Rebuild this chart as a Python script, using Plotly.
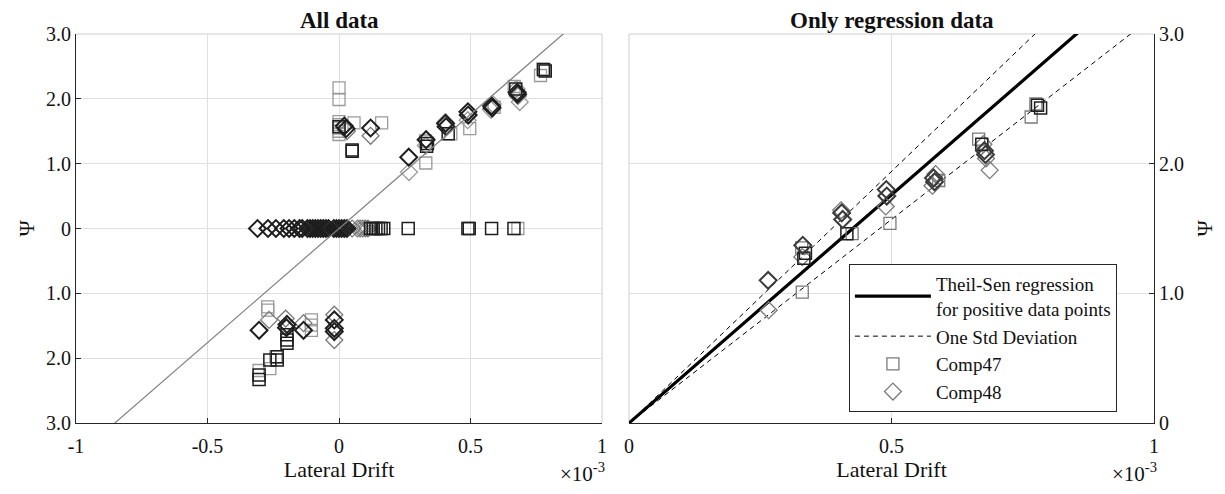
import plotly.graph_objects as go

# Lateral drift in units of 1e-3, Psi values
# ---- regression (positive) data ----
c47_reg_dark_x = [0.333, 0.336, 0.415, 0.672, 0.784, 0.778]
c47_reg_dark_y = [1.27, 1.31, 1.46, 2.15, 2.43, 2.45]
c47_reg_light_x = [0.330, 0.329, 0.425, 0.497, 0.590, 0.666, 0.766, 0.775]
c47_reg_light_y = [1.01, 1.35, 1.46, 1.54, 1.87, 2.19, 2.36, 2.46]
c48_reg_dark_x = [0.265, 0.331, 0.405, 0.407, 0.490, 0.491, 0.580, 0.582, 0.677, 0.679]
c48_reg_dark_y = [1.10, 1.37, 1.62, 1.57, 1.80, 1.75, 1.89, 1.86, 2.10, 2.07]
c48_reg_light_x = [0.266, 0.330, 0.404, 0.489, 0.578, 0.584, 0.680, 0.687, 0.675]
c48_reg_light_y = [0.87, 1.28, 1.64, 1.67, 1.83, 1.92, 2.04, 1.95, 2.15]

# ---- remaining data (only in "All data") ----
c47_other_dark_x = [0.12, 0.13, 0.14, 0.15, 0.16, 0.17, 0.263, 0.490, 0.495, 0.580, 0.665,
                    0.0, 0.05, 0.05,
                    -0.198, -0.198, -0.198, -0.235, -0.235, -0.304, -0.304, -0.263]
c47_other_dark_y = [0, 0, 0, 0, 0, 0, 0, 0, 0, 0, 0,
                    1.57, 1.19, 1.21,
                    -1.64, -1.72, -1.77, -2.03, -1.98, -2.33, -2.26, -2.03]
c47_other_light_x = [0.68, 0.0, 0.0, 0.0, 0.0, 0.0, 0.0, 0.0, 0.057, 0.162,
                     -0.271, -0.271, -0.105, -0.105, -0.105, -0.304, -0.263, -0.24]
c47_other_light_y = [0, 2.17, 1.99, 1.65, 1.60, 1.55, 1.50, 1.45, 1.63, 1.63,
                     -1.21, -1.26, -1.41, -1.49, -1.57, -2.19, -2.16, -1.98]
c48_other_dark_x = [-0.31, -0.27, -0.24, -0.21, -0.19, -0.17, -0.15, -0.14, -0.12, -0.11,
                    -0.10, -0.09, -0.08, -0.07, -0.06, -0.05, -0.04, -0.02, -0.01, 0.0,
                    0.01, 0.02, 0.03,
                    0.027, 0.02, 0.12,
                    -0.304, -0.20, -0.198, -0.135, -0.018, -0.018, -0.018]
c48_other_dark_y = [0, 0, 0, 0, 0, 0, 0, 0, 0, 0,
                    0, 0, 0, 0, 0, 0, 0, 0, 0, 0,
                    0, 0, 0,
                    1.54, 1.58, 1.55,
                    -1.57, -1.53, -1.48, -1.57, -1.41, -1.54, -1.59]
c48_other_light_x = [0.05, 0.07, 0.08, 0.09, 0.10, 0.11, 0.03, 0.12,
                     -0.266, -0.203, -0.135, -0.018, -0.018]
c48_other_light_y = [0, 0, 0, 0, 0, 0, 1.50, 1.43,
                     -1.41, -1.39, -1.46, -1.33, -1.72]

# ---- regression results (Psi per 1e-3 drift) ----
fit_slope = 3.52
std_slope_hi = 3.88
std_slope_lo = 3.14
line_x_all = [-1, 1]
line_x_reg = [0, 1]

# ---- tick labels ----
x_ticks_all = [-1, -0.5, 0, 0.5, 1]
x_labels_all = ["-1", "-0.5", "0", "0.5", "1"]
y_ticks_all = [-3, -2, -1, 0, 1, 2, 3]
y_labels_all = ["3.0", "2.0", "1.0", "0", "1.0", "2.0", "3.0"]
x_ticks_reg = [0, 0.5, 1]
x_labels_reg = ["0", "0.5", "1"]
y_ticks_reg = [0, 1, 2, 3]
y_labels_reg = ["0", "1.0", "2.0", "3.0"]

FONT = "Liberation Serif"
DARK = "#1e1e1e"
LIGHT = "#9a9a9a"
MID = "#7a7a7a"
AX = "#262626"
GRID = "#e0e0e0"

fig = go.Figure()


def add_markers(x, y, symbol, color, size, xa, ya, name=None, legend=False, width=1.3):
    fig.add_trace(go.Scatter(
        x=x, y=y, mode="markers", xaxis=xa, yaxis=ya,
        marker=dict(symbol=symbol, size=size, color=color, line=dict(width=width, color=color)),
        name=name, showlegend=legend, hoverinfo="skip"))


# Left panel: all data
add_markers(c47_other_light_x, c47_other_light_y, "square-open", LIGHT, 12, "x", "y")
add_markers(c47_reg_light_x, c47_reg_light_y, "square-open", LIGHT, 12, "x", "y")
add_markers(c48_other_light_x, c48_other_light_y, "diamond-open", MID, 13, "x", "y")
add_markers(c48_reg_light_x, c48_reg_light_y, "diamond-open", LIGHT, 13, "x", "y")
add_markers(c47_other_dark_x, c47_other_dark_y, "square-open", DARK, 12, "x", "y", width=1.5)
add_markers(c47_reg_dark_x, c47_reg_dark_y, "square-open", DARK, 12, "x", "y", width=1.5)
add_markers(c48_other_dark_x, c48_other_dark_y, "diamond-open", DARK, 13, "x", "y", width=2)
add_markers(c48_reg_dark_x, c48_reg_dark_y, "diamond-open", DARK, 13, "x", "y", width=2)

fig.add_trace(go.Scatter(
    x=line_x_all, y=[fit_slope * v for v in line_x_all], mode="lines",
    xaxis="x", yaxis="y", line=dict(color="#808080", width=1.2),
    showlegend=False, hoverinfo="skip"))

# Right panel: regression data
fig.add_trace(go.Scatter(
    x=line_x_reg, y=[fit_slope * v for v in line_x_reg], mode="lines",
    xaxis="x2", yaxis="y2", line=dict(color="black", width=3.2),
    name="Theil-Sen regression<br>for positive data points", showlegend=True, hoverinfo="skip"))
fig.add_trace(go.Scatter(
    x=line_x_reg, y=[std_slope_hi * v for v in line_x_reg], mode="lines",
    xaxis="x2", yaxis="y2", line=dict(color="black", width=1, dash="5px,4px"),
    name="One Std Deviation", showlegend=True, hoverinfo="skip"))
fig.add_trace(go.Scatter(
    x=line_x_reg, y=[std_slope_lo * v for v in line_x_reg], mode="lines",
    xaxis="x2", yaxis="y2", line=dict(color="black", width=1, dash="5px,4px"),
    showlegend=False, hoverinfo="skip"))

add_markers(c47_reg_light_x, c47_reg_light_y, "square-open", MID, 12, "x2", "y2",
            name="Comp47", legend=True)
add_markers(c48_reg_light_x, c48_reg_light_y, "diamond-open", MID, 13, "x2", "y2",
            name="Comp48", legend=True)
add_markers(c47_reg_dark_x, c47_reg_dark_y, "square-open", DARK, 12, "x2", "y2", width=1.5)
add_markers(c48_reg_dark_x, c48_reg_dark_y, "diamond-open", "#3a3a3a", 13, "x2", "y2", width=2)

axis_common = dict(
    showgrid=True, gridcolor=GRID, gridwidth=1, zeroline=False,
    showline=True, linecolor=AX, linewidth=1.2, mirror=False,
    ticks="inside", ticklen=5, tickcolor=AX, tickwidth=1,
    tickfont=dict(family=FONT, size=20, color="#111111"),
    automargin=False, fixedrange=True)

# The page body has an 8px default margin: the figure is sized so that
# the plot areas land where the reference has them in the 1225x494 window.
fig.update_layout(
    width=1209, height=478,
    margin=dict(l=68, r=63, t=26, b=63),
    paper_bgcolor="white", plot_bgcolor="white",
    font=dict(family=FONT, size=20, color="#111111"),
    xaxis=dict(domain=[0, 0.488], range=[-1, 1], tickvals=x_ticks_all, ticktext=x_labels_all,
               anchor="y", ticklabelstandoff=5,
               title=dict(text="Lateral Drift", font=dict(family=FONT, size=22), standoff=3),
               **axis_common),
    yaxis=dict(domain=[0, 1], range=[-3, 3], tickvals=y_ticks_all, ticktext=y_labels_all,
               anchor="x", ticklabelstandoff=0,
               title=dict(text="Ψ", font=dict(family=FONT, size=22), standoff=5),
               **axis_common),
    xaxis2=dict(domain=[0.513, 1], range=[0, 1], tickvals=x_ticks_reg, ticktext=x_labels_reg,
                anchor="y2", ticklabelstandoff=5,
                title=dict(text="Lateral Drift", font=dict(family=FONT, size=22), standoff=3),
                **axis_common),
    yaxis2=dict(domain=[0, 1], range=[0, 3], tickvals=y_ticks_reg, ticktext=y_labels_reg,
                anchor="x2", side="right", ticklabelstandoff=0,
                title=dict(text="Ψ", font=dict(family=FONT, size=22), standoff=25),
                **axis_common),
    legend=dict(x=0.717, y=0.409, xanchor="left", yanchor="top",
                bgcolor="white", bordercolor=AX, borderwidth=1,
                font=dict(family=FONT, size=19, color="#111111"),
                tracegroupgap=0, itemwidth=76, itemclick=False, itemdoubleclick=False),
    showlegend=True,
)

# Light box edges (top/right on left panel, top/left on right panel)
for xr, yr, edges in [("x domain", "y domain", [(0, 1, 1, 1), (1, 0, 1, 1)]),
                      ("x2 domain", "y2 domain", [(0, 1, 1, 1), (0, 0, 0, 1)])]:
    for x0, y0, x1, y1 in edges:
        fig.add_shape(type="line", xref=xr, yref=yr, x0=x0, y0=y0, x1=x1, y1=y1,
                      line=dict(color="#cfcfcf", width=1), layer="below")

# Panel titles
fig.add_annotation(text="<b>All data</b>", xref="x domain", yref="paper", x=0.5, y=1,
                   xanchor="center", yanchor="bottom", yshift=-1, showarrow=False,
                   font=dict(family=FONT, size=23, color="#111111"))
fig.add_annotation(text="<b>Only regression data</b>", xref="x2 domain", yref="paper", x=0.5, y=1,
                   xanchor="center", yanchor="bottom", yshift=-1, showarrow=False,
                   font=dict(family=FONT, size=23, color="#111111"))

# x10^-3 multipliers
for xr in ["x domain", "x2 domain"]:
    fig.add_annotation(text="×10<sup>-3</sup>", xref=xr, yref="paper", x=1.01, y=-0.127,
                       xanchor="right", yanchor="middle", showarrow=False,
                       font=dict(family=FONT, size=21, color="#111111"))

fig.write_html("out.html")
